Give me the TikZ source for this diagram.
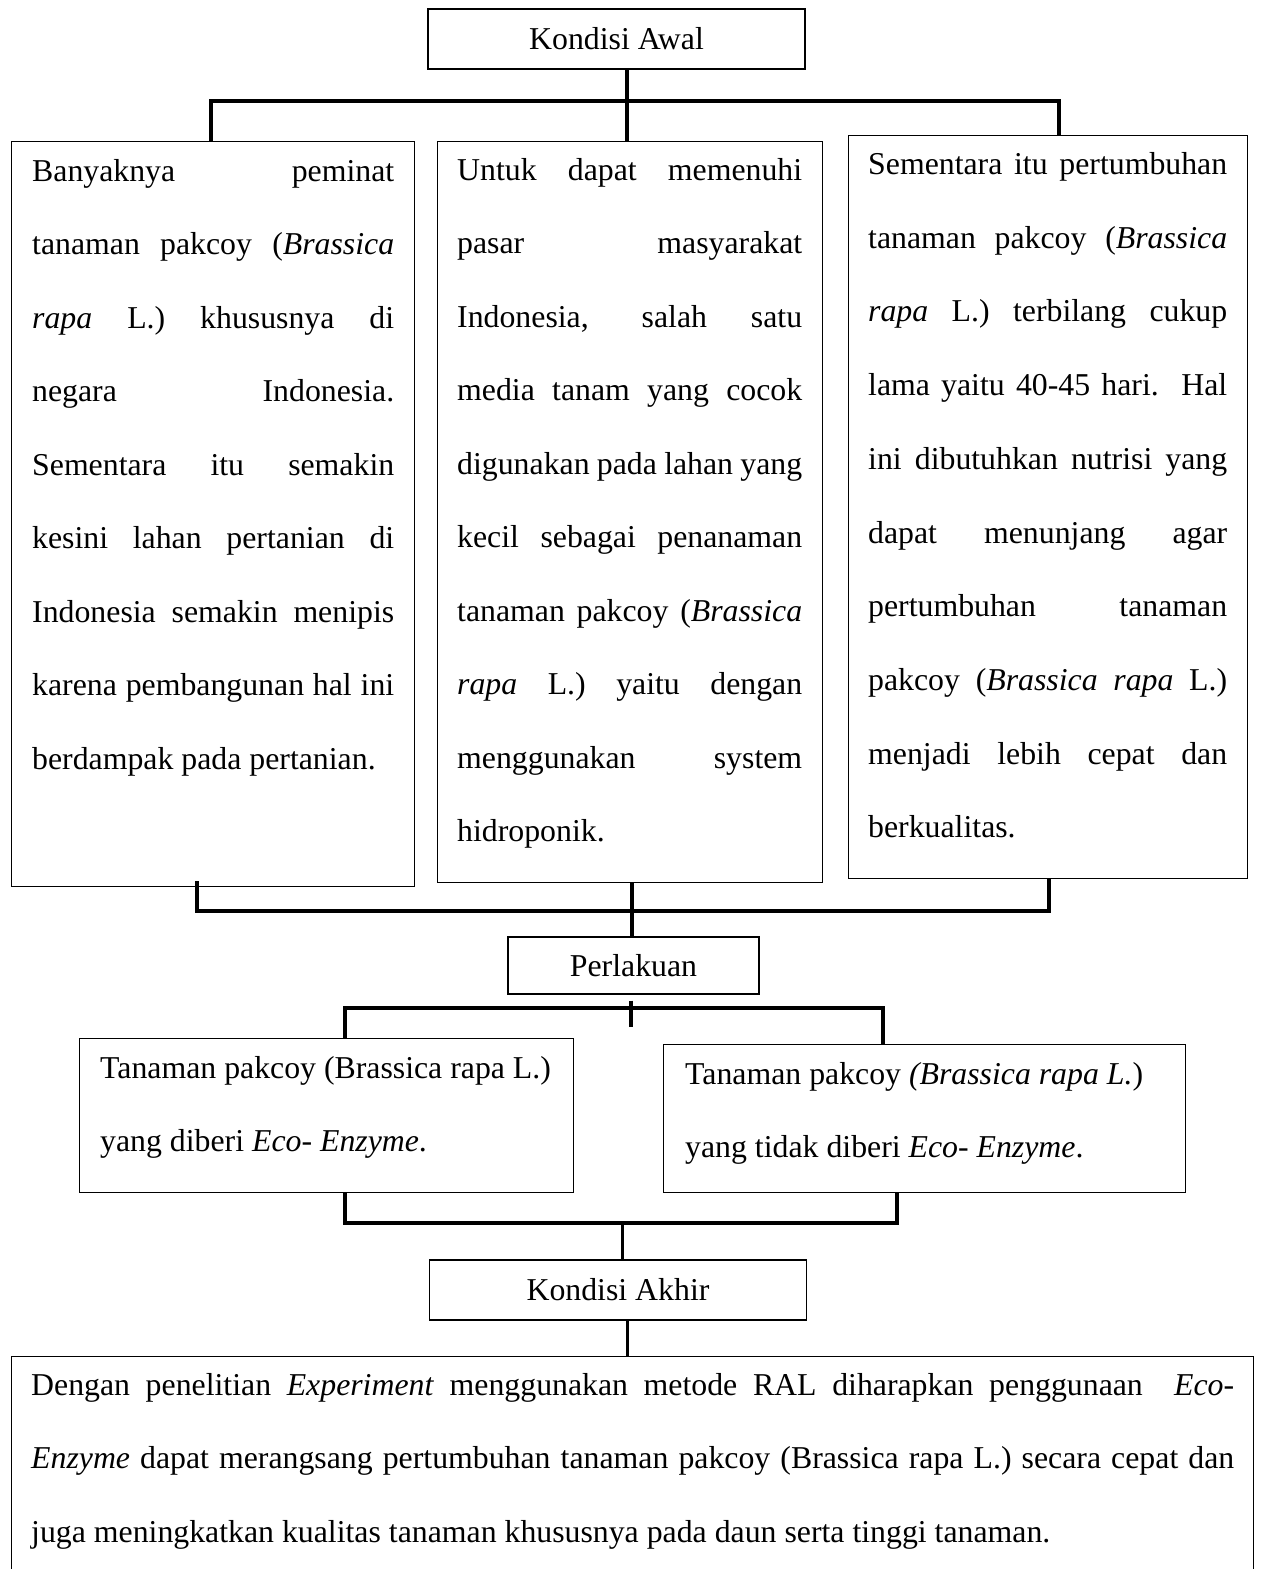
\documentclass[tikz,border=0pt]{standalone}
\usepackage{fontspec}
\setmainfont{Liberation Serif}
\begin{document}
\begin{tikzpicture}[x=1pt,y=-1pt,
  every node/.style={font=\fontsize{31.8}{38}\selectfont, inner sep=0pt},
  box/.style={draw, line width=1.2pt},
  txt/.style={anchor=base west},
  conn/.style={line width=4pt, line join=miter},
  connthin/.style={line width=3pt}]
\useasboundingbox (0,0) rectangle (1261,1569);
\clip (0,0) rectangle (1261,1569);
\newcommand\jl[5]{\node[txt] (#1) at (#2,#3) {\makebox[#4pt][s]{#5}};}
% boxes
\node[box, minimum width=377pt, minimum height=60pt] (ka) at (616.5,39) {Kondisi Awal};
\node[box, anchor=north west, minimum width=403pt, minimum height=745pt] (L) at (11,141) {};
\node[box, anchor=north west, minimum width=385pt, minimum height=741pt] (M) at (437,141) {};
\node[box, anchor=north west, minimum width=399pt, minimum height=743pt] (R) at (848,135) {};
\node[box, minimum width=251pt, minimum height=57pt] (P) at (633.5,965.5) {Perlakuan};
\node[box, anchor=north west, minimum width=494pt, minimum height=154pt] (A) at (79,1038) {};
\node[box, anchor=north west, minimum width=522pt, minimum height=148pt] (B) at (663,1044) {};
\node[box, minimum width=377pt, minimum height=60pt] (kk) at (618,1290) {Kondisi Akhir};
\node[box, anchor=north west, minimum width=1242pt, minimum height=240pt] (F) at (11,1356) {};
% left text
\jl{l1}{32}{181}{362}{Banyaknya peminat}
\jl{l2}{32}{254.5}{362}{tanaman pakcoy (\textit{Brassica}}
\jl{l3}{32}{328}{362}{\textit{rapa} L.) khususnya di}
\jl{l4}{32}{401.5}{362}{negara Indonesia.}
\jl{l5}{32}{475}{362}{Sementara itu semakin}
\jl{l6}{32}{548.5}{362}{kesini lahan pertanian di}
\jl{l7}{32}{622}{362}{Indonesia semakin menipis}
\jl{l8}{32}{695.5}{362}{karena pembangunan hal ini}
\node[txt] (l9) at (32,769) {berdampak pada pertanian.};
% middle text
\jl{m1}{457}{180}{345}{Untuk dapat memenuhi}
\jl{m2}{457}{253.5}{345}{pasar masyarakat}
\jl{m3}{457}{327}{345}{Indonesia, salah satu}
\jl{m4}{457}{400.5}{345}{media tanam yang cocok}
\jl{m5}{457}{474}{345}{digunakan pada lahan yang}
\jl{m6}{457}{547.5}{345}{kecil sebagai penanaman}
\jl{m7}{457}{621}{345}{tanaman pakcoy (\textit{Brassica}}
\jl{m8}{457}{694.5}{345}{\textit{rapa} L.) yaitu dengan}
\jl{m9}{457}{768}{345}{menggunakan system}
\node[txt] (m10) at (457,841.5) {hidroponik.};
% right text
\jl{r1}{868}{174.5}{359}{Sementara itu pertumbuhan}
\jl{r2}{868}{248.2}{359}{tanaman pakcoy (\textit{Brassica}}
\jl{r3}{868}{321.9}{359}{\textit{rapa} L.) terbilang cukup}
\jl{r4}{868}{395.6}{359}{lama yaitu 40-45 hari.\ \ Hal}
\jl{r5}{868}{469.3}{359}{ini dibutuhkan nutrisi yang}
\jl{r6}{868}{543}{359}{dapat menunjang agar}
\jl{r7}{868}{616.7}{359}{pertumbuhan tanaman}
\jl{r8}{868}{690.4}{359}{pakcoy (\textit{Brassica rapa} L.)}
\jl{r9}{868}{764.1}{359}{menjadi lebih cepat dan}
\node[txt] (r10) at (868,837.8) {berkualitas.};
% second level text
\node[txt] (a1) at (100,1078) {Tanaman pakcoy (Brassica rapa L.)};
\node[txt] (a2) at (100,1151) {yang diberi \textit{Eco- Enzyme}.};
\node[txt] (b1) at (685,1084) {Tanaman pakcoy \textit{(Brassica rapa L.})};
\node[txt] (b2) at (685,1157) {yang tidak diberi \textit{Eco- Enzyme}.};
% final text
\jl{f1}{31}{1395}{1203}{Dengan penelitian \textit{Experiment} menggunakan metode RAL diharapkan penggunaan\ \ \textit{Eco-}}
\jl{f2}{31}{1468}{1203}{\textit{Enzyme} dapat merangsang pertumbuhan tanaman pakcoy (Brassica rapa L.) secara cepat dan}
\node[txt] (f3) at (31,1542) {juga meningkatkan kualitas tanaman khususnya pada daun serta tinggi tanaman.};
% junction coordinates
\coordinate (t1) at (211,101);
\coordinate (t2) at (627,101);
\coordinate (t3) at (1059,101);
\coordinate (u1) at (197,911);
\coordinate (u2) at (632,911);
\coordinate (u3) at (1049,911);
\coordinate (v1) at (345,1008);
\coordinate (v2) at (631,1008);
\coordinate (v2e) at (631,1027);
\coordinate (v3) at (883,1008);
\coordinate (w1) at (345,1223);
\coordinate (w2) at (622,1223);
\coordinate (w3) at (897,1223);
\coordinate (z) at (627,1338);
% connectors
\draw[conn] (L.north -| t1) -- (t1) -- (t3) -- (R.north -| t3);
\draw[conn] (ka.south -| t2) -- (M.north -| t2);
\draw[conn] ([yshift=6pt]L.south -| u1) -- (u1) -- (u3) -- (R.south -| u3);
\draw[conn] (M.south -| u2) -- (P.north -| u2);
\draw[conn] (A.north -| v1) -- (v1) -- (v3) -- (B.north -| v3);
\draw[conn] ([yshift=-6pt]P.south -| v2) -- (v2e);
\draw[conn] (A.south -| w1) -- (w1) -- (w3) -- (B.south -| w3);
\draw[connthin] (w2) -- (kk.north -| w2);
\draw[connthin] (kk.south -| z) -- (F.north -| z);
\end{tikzpicture}
\end{document}
